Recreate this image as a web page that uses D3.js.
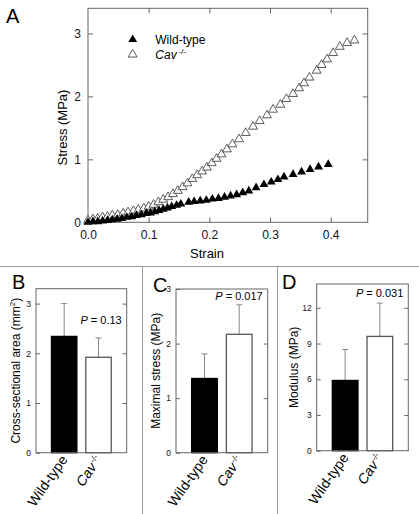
<!DOCTYPE html>
<html><head><meta charset="utf-8">
<script src="https://cdn.jsdelivr.net/npm/d3@7"></script>
<style>body{margin:0;background:#fff}svg{display:block;font-family:Arial,"Liberation Sans",sans-serif}</style>
</head><body><svg id="c" width="419" height="514"></svg>
<script>
// Panel A: stress-strain curves
const wtStrain = [0.000,0.008,0.016,0.024,0.032,0.040,0.048,0.056,0.064,0.072,0.080,0.088,0.096,0.103,0.110,0.117,0.124,0.131,0.138,0.146,0.153,0.166,0.175,0.185,0.195,0.205,0.215,0.225,0.235,0.245,0.255,0.265,0.277,0.290,0.302,0.313,0.323,0.338,0.352,0.366,0.380,0.396];
const wtStress = [0.00,0.01,0.01,0.02,0.03,0.04,0.05,0.06,0.08,0.09,0.11,0.12,0.14,0.15,0.17,0.19,0.21,0.23,0.25,0.27,0.29,0.32,0.33,0.34,0.35,0.37,0.38,0.40,0.42,0.44,0.47,0.50,0.55,0.60,0.64,0.68,0.72,0.76,0.80,0.84,0.88,0.92];
const cavStrain = [0.000,0.008,0.016,0.024,0.032,0.040,0.049,0.058,0.066,0.075,0.083,0.092,0.100,0.108,0.116,0.124,0.132,0.140,0.148,0.156,0.164,0.172,0.180,0.188,0.196,0.204,0.212,0.220,0.229,0.238,0.249,0.260,0.272,0.283,0.295,0.305,0.317,0.327,0.338,0.348,0.356,0.365,0.377,0.385,0.394,0.404,0.415,0.427,0.439];
const cavStress = [0.03,0.05,0.06,0.08,0.09,0.11,0.12,0.14,0.16,0.18,0.20,0.22,0.25,0.28,0.32,0.36,0.40,0.45,0.50,0.56,0.62,0.69,0.75,0.81,0.87,0.94,1.01,1.08,1.16,1.24,1.32,1.42,1.52,1.61,1.70,1.79,1.87,1.96,2.04,2.13,2.21,2.30,2.41,2.50,2.59,2.69,2.79,2.85,2.89];
const xTicksA = [0,0.1,0.2,0.3,0.4];
const yTicksA = [0,1,2,3];
const legendLabels = ["Wild-type","Cav"];

// Panels B-D: bar charts
const groups = ["Wild-type","Cav"];
const areaMean = [2.34,1.92], areaErr = [0.66,0.39];
const stressMean = [1.36,2.17], stressErr = [0.45,0.54];
const modulusMean = [5.9,9.6], modulusErr = [2.6,2.8];
const areaTicks = [0,1,2,3], stressTicks = [0,1,2,3], modulusTicks = [0,3,6,9,12];
const pLabels = ["0.13","0.017","0.031"];

const svg = d3.select("#c");
const frameCol = "#666";

// ---------- Panel A ----------
const A = {l:88, r:367.7, t:8.3, b:222.3};
const xA = d3.scaleLinear().domain([0,0.461]).range([A.l,A.r]);
const yA = d3.scaleLinear().domain([0,3.4]).range([A.b,A.t]);
const gA = svg.append("g");
function styleAxis(g){
  g.select(".domain").remove();
  g.selectAll(".tick line").attr("stroke",frameCol);
  g.selectAll(".tick text").attr("fill","#111");
}
gA.append("g").attr("transform",`translate(0,${A.b})`)
  .call(d3.axisBottom(xA).tickValues(xTicksA).tickFormat(d3.format(".1f")).tickSizeInner(-5).tickSizeOuter(0).tickPadding(8))
  .call(styleAxis).selectAll("text").attr("font-size",12).attr("font-family","Arial, Liberation Sans");
gA.append("g").attr("transform",`translate(0,${A.t})`)
  .call(d3.axisTop(xA).tickValues(xTicksA.slice(1)).tickFormat("").tickSizeInner(-5).tickSizeOuter(0))
  .call(styleAxis);
gA.append("g").attr("transform",`translate(${A.l},0)`)
  .call(d3.axisLeft(yA).tickValues(yTicksA).tickFormat(d3.format("d")).tickSizeInner(-5).tickSizeOuter(0).tickPadding(7))
  .call(styleAxis).selectAll("text").attr("font-size",12).attr("font-family","Arial, Liberation Sans");
gA.append("g").attr("transform",`translate(${A.r},0)`)
  .call(d3.axisRight(yA).tickValues(yTicksA.slice(1)).tickFormat("").tickSizeInner(-5).tickSizeOuter(0))
  .call(styleAxis);
gA.append("rect").attr("x",A.l).attr("y",A.t).attr("width",A.r-A.l).attr("height",A.b-A.t)
  .attr("fill","none").attr("stroke",frameCol).attr("stroke-width",1);

const tri = d3.symbol().type(d3.symbolTriangle).size(34);
const cavPts = cavStrain.map((s,i)=>[s,cavStress[i]]);
const wtPts = wtStrain.map((s,i)=>[s,wtStress[i]]);
gA.append("g").selectAll("path").data(cavPts).join("path")
  .attr("d",tri).attr("transform",d=>`translate(${xA(d[0])},${yA(d[1])})`)
  .attr("fill","#fff").attr("stroke","#333").attr("stroke-width",0.8);
gA.append("g").selectAll("path").data(wtPts).join("path")
  .attr("d",tri).attr("transform",d=>`translate(${xA(d[0])},${yA(d[1])})`)
  .attr("fill","#000");

// legend
gA.append("path").attr("d",tri).attr("transform","translate(132.7,39.5)").attr("fill","#000");
gA.append("path").attr("d",tri).attr("transform","translate(132.7,54.5)").attr("fill","#fff").attr("stroke","#333").attr("stroke-width",0.8);
gA.append("text").attr("x",155.3).attr("y",43.8).attr("font-size",12).text(legendLabels[0]);
const lt = gA.append("text").attr("x",155.3).attr("y",59).attr("font-size",12);
lt.append("tspan").attr("font-style","italic").text(legendLabels[1]);
lt.append("tspan").attr("font-size",8).attr("dx",2).attr("dy",-5).text("-/-");

gA.append("text").attr("x",207).attr("y",258).attr("text-anchor","middle").attr("font-size",13).text("Strain");
gA.append("text").attr("transform","translate(67,127.5) rotate(-90)").attr("text-anchor","middle").attr("font-size",13).text("Stress (MPa)");
svg.append("text").attr("x",6).attr("y",22.5).attr("font-size",20).text("A");

// ---------- separators ----------
const sepCol = "#999";
svg.append("line").attr("x1",0).attr("x2",419).attr("y1",266.5).attr("y2",266.5).attr("stroke",sepCol);
[142.5,277.5].forEach(x=>svg.append("line").attr("x1",x).attr("x2",x).attr("y1",266.5).attr("y2",514).attr("stroke",sepCol));

// ---------- bar panels ----------
function barPanel(o){
  const g = svg.append("g");
  const x = d3.scaleBand().domain(groups).range([o.l,o.r]).paddingInner(0.26).paddingOuter(0.45);
  const y = d3.scaleLinear().domain([0,o.max]).range([o.b,o.t]);
  g.append("g").attr("transform",`translate(${o.l},0)`)
    .call(d3.axisLeft(y).tickValues(o.ticks).tickFormat(d3.format("d")).tickSizeInner(-4).tickSizeOuter(0).tickPadding(5))
    .call(styleAxis).selectAll("text").attr("font-size",8.5).attr("font-family","Arial, Liberation Sans");
  g.append("g").attr("transform",`translate(${o.r},0)`)
    .call(d3.axisRight(y).tickValues(o.ticks.filter(v=>v>0 && y(v)>o.t+1)).tickFormat("").tickSizeInner(-4).tickSizeOuter(0))
    .call(styleAxis);
  // error bars
  const eb = g.append("g").attr("stroke","#888").attr("stroke-width",1);
  groups.forEach((k,i)=>{
    const cx = x(k)+x.bandwidth()/2;
    eb.append("line").attr("x1",cx).attr("x2",cx).attr("y1",y(o.mean[i])).attr("y2",y(o.mean[i]+o.err[i]));
    eb.append("line").attr("x1",cx-3).attr("x2",cx+3).attr("y1",y(o.mean[i]+o.err[i])).attr("y2",y(o.mean[i]+o.err[i]));
  });
  g.append("g").selectAll("rect").data(groups).join("rect")
    .attr("x",d=>x(d)).attr("width",x.bandwidth())
    .attr("y",(d,i)=>y(o.mean[i])).attr("height",(d,i)=>o.b-y(o.mean[i]))
    .attr("fill",(d,i)=>i===0?"#000":"#fff").attr("stroke",(d,i)=>i===0?"#000":"#555").attr("stroke-width",1.3);
  g.append("rect").attr("x",o.l).attr("y",o.t).attr("width",o.r-o.l).attr("height",o.b-o.t)
    .attr("fill","none").attr("stroke",frameCol).attr("stroke-width",1);
  // p value
  const pt = g.append("text").attr("x",o.r-5).attr("y",o.pY).attr("text-anchor","end").attr("font-size",11);
  pt.append("tspan").attr("font-style","italic").text("P");
  pt.append("tspan").text(" = "+o.p);
  // category labels
  groups.forEach((k,i)=>{
    const cx = x(k)+x.bandwidth()/2+4;
    const t = g.append("text").attr("transform",`translate(${cx},${o.b+7}) rotate(-55)`)
      .attr("text-anchor","end").attr("font-size",14);
    if(i===0) t.text(k);
    else { t.append("tspan").attr("font-style","italic").text(k);
           t.append("tspan").attr("font-size",8.5).attr("dx",1).attr("dy",-5).text("-/-"); }
  });
  // y label
  const yl = g.append("text").attr("transform",`translate(${o.ylx},${(o.t+o.b)/2}) rotate(-90)`)
    .attr("text-anchor","middle").attr("font-size",12);
  if(o.sup){ yl.append("tspan").text(o.ylab); yl.append("tspan").attr("font-size",8).attr("dy",-5).text("2"); yl.append("tspan").attr("dy",5).text(")"); }
  else yl.text(o.ylab);
  svg.append("text").attr("x",o.lx).attr("y",o.ly).attr("font-size",20).text(o.letter);
}
barPanel({l:36,r:126.7,t:288.7,b:452.7,max:3.3,ticks:areaTicks,mean:areaMean,err:areaErr,p:pLabels[0],pY:324,
  ylab:"Cross-sectional area (mm",sup:true,ylx:20,letter:"B",lx:12,ly:288.5});
barPanel({l:176,r:267.7,t:289,b:452.7,max:3,ticks:stressTicks,mean:stressMean,err:stressErr,p:pLabels[1],pY:300,
  ylab:"Maximal stress (MPa)",ylx:160,letter:"C",lx:153,ly:292});
barPanel({l:316.7,r:408.3,t:284,b:450.7,max:14,ticks:modulusTicks,mean:modulusMean,err:modulusErr,p:pLabels[2],pY:297,
  ylab:"Modulus (MPa)",ylx:298,letter:"D",lx:282,ly:288.5});
</script></body></html>
